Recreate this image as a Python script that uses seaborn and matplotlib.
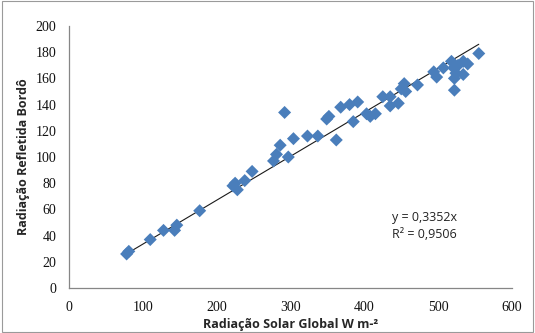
import matplotlib
matplotlib.use("Agg")
import matplotlib.pyplot as plt
import seaborn as sns
import numpy as np
import pandas as pd
from matplotlib.patches import Rectangle

radiacao_global = [78, 81, 110, 128, 143, 146, 177, 222, 225, 228, 238, 248,
                   277, 281, 286, 292, 297, 304, 323, 337, 349, 352, 362, 368,
                   380, 385, 391, 403, 408, 415, 425, 435, 435, 446, 450, 454,
                   456, 472, 494, 498, 507, 518, 521, 522, 522, 524, 527, 534,
                   534, 540, 555]
radiacao_refletida = [26, 28, 37, 44, 44, 48, 59, 78, 80, 75, 82, 89,
                      97, 102, 109, 134, 100, 114, 116, 116, 129, 131, 113, 138,
                      140, 127, 142, 133, 131, 133, 146, 146, 139, 141, 152, 156,
                      150, 155, 165, 161, 168, 173, 168, 160, 151, 164, 170, 173,
                      163, 171, 179]
slope = 0.3352
r2 = 0.9506
x_ticks = [0, 100, 200, 300, 400, 500, 600]
y_ticks = [0, 20, 40, 60, 80, 100, 120, 140, 160, 180, 200]

df = pd.DataFrame({"x": radiacao_global, "y": radiacao_refletida})

sns.set_style("white")
fig = plt.figure(figsize=(5.35, 3.33), dpi=100)
ax = fig.add_axes([0.129, 0.135, 0.828, 0.787])

sns.scatterplot(data=df, x="x", y="y", marker="D", s=44, color="#4A7EBB",
                edgecolor="none", ax=ax, zorder=3)
xl = np.array([min(radiacao_global), max(radiacao_global)])
sns.lineplot(x=xl, y=slope * xl, color="#1a1a1a", lw=0.8, ax=ax, zorder=2)

ax.set_xlim(0, 600)
ax.set_ylim(0, 200)
ax.set_xticks(x_ticks)
ax.set_yticks(y_ticks)
tick_font = {"family": "Liberation Serif", "size": 10}
ax.set_xticklabels([str(t) for t in x_ticks], fontdict=tick_font)
ax.set_yticklabels([str(t) for t in y_ticks], fontdict=tick_font)
for s in ["top", "right"]:
    ax.spines[s].set_visible(False)
for s in ["left", "bottom"]:
    ax.spines[s].set_color("#868686")
    ax.spines[s].set_linewidth(0.9)
ax.tick_params(axis="both", direction="out", length=4, width=0.8,
               color="#868686", labelcolor="#111111", pad=5)

ax.set_xlabel("Radiação Solar Global W m-²", fontsize=9, fontweight="bold",
              family="Open Sans", labelpad=3)
ax.set_ylabel("Radiação Refletida Bordô", fontsize=9, fontweight="bold",
              family="Open Sans", labelpad=4)

ax.text(437, 53.5, f"y = {str(slope).replace('.', ',')}x", fontsize=9,
        family="Open Sans", va="center", ha="left", color="#222222")
ax.text(437, 41, f"R² = {str(r2).replace('.', ',')}", fontsize=9,
        family="Open Sans", va="center", ha="left", color="#222222")

fig.patches.append(Rectangle((0.004, 0.004), 0.992, 0.992, transform=fig.transFigure,
                             fill=False, edgecolor="#9a9a9a", lw=0.8))

fig.savefig("out.png", dpi=100)
